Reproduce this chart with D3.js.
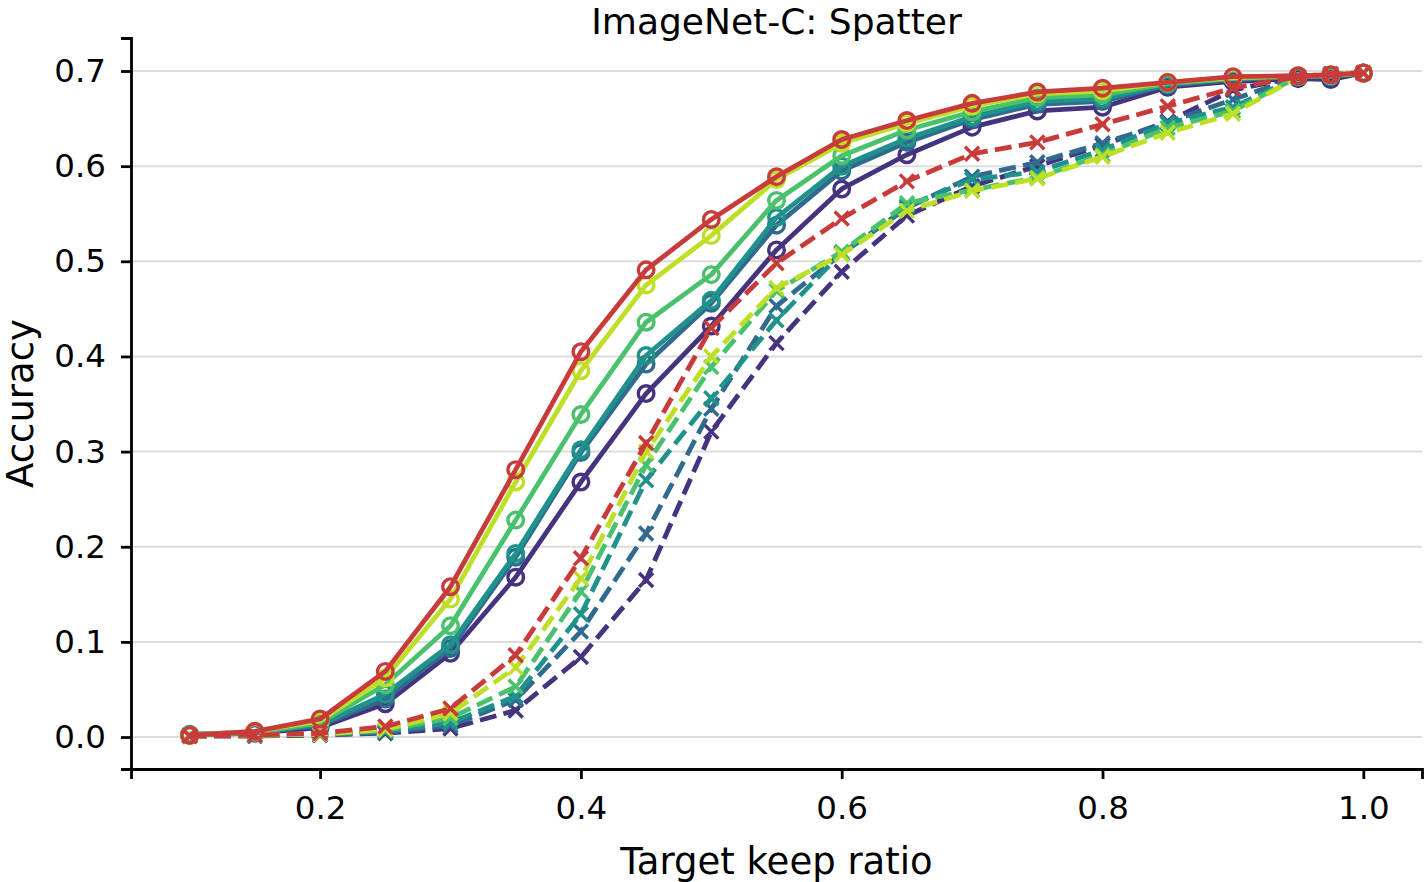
<!DOCTYPE html>
<html>
<head>
<meta charset="utf-8">
<script src="https://cdn.jsdelivr.net/npm/d3@7"></script>
<style>
  body { margin: 0; background: #fff; }
  svg { display: block; font-family: 'DejaVu Sans', sans-serif; }
</style>
</head>
<body>
<svg id="chart" width="1424" height="882"></svg>
<script>
/* ------------ Data ----------------*/
const keepRatios = [0.1, 0.15, 0.2, 0.25, 0.3, 0.35, 0.4, 0.45, 0.5, 0.55, 0.6, 0.65, 0.7, 0.75, 0.8, 0.85, 0.9, 0.95, 0.975, 1.0];

const seriesNames = ['purple', 'blue', 'teal', 'green', 'yellow', 'red'];

const solidValues = [
  [0.002, 0.004, 0.010, 0.035, 0.088, 0.168, 0.268, 0.361, 0.432, 0.512, 0.576, 0.612, 0.641, 0.658, 0.662, 0.683, 0.689, 0.692, 0.691, 0.698],
  [0.002, 0.005, 0.012, 0.040, 0.093, 0.189, 0.299, 0.392, 0.456, 0.538, 0.595, 0.625, 0.649, 0.665, 0.668, 0.685, 0.691, 0.694, 0.694, 0.698],
  [0.003, 0.005, 0.013, 0.045, 0.097, 0.193, 0.302, 0.401, 0.459, 0.546, 0.600, 0.629, 0.652, 0.668, 0.671, 0.686, 0.692, 0.694, 0.695, 0.698],
  [0.002, 0.005, 0.015, 0.055, 0.117, 0.228, 0.339, 0.436, 0.486, 0.564, 0.611, 0.638, 0.657, 0.672, 0.675, 0.687, 0.692, 0.695, 0.695, 0.698],
  [0.002, 0.006, 0.017, 0.062, 0.145, 0.268, 0.385, 0.475, 0.527, 0.586, 0.624, 0.645, 0.663, 0.676, 0.679, 0.688, 0.693, 0.695, 0.696, 0.698],
  [0.002, 0.006, 0.019, 0.069, 0.158, 0.281, 0.405, 0.491, 0.544, 0.589, 0.628, 0.648, 0.666, 0.678, 0.682, 0.688, 0.694, 0.695, 0.696, 0.698]
];

const dashedValues = [
  [0.001, 0.001, 0.002, 0.004, 0.009, 0.028, 0.084, 0.165, 0.321, 0.414, 0.489, 0.548, 0.579, 0.600, 0.622, 0.647, 0.680, 0.694, 0.697, 0.698],
  [0.001, 0.002, 0.002, 0.005, 0.012, 0.039, 0.111, 0.214, 0.345, 0.453, 0.508, 0.556, 0.589, 0.604, 0.624, 0.646, 0.670, 0.694, 0.697, 0.698],
  [0.001, 0.002, 0.003, 0.006, 0.015, 0.043, 0.129, 0.270, 0.356, 0.438, 0.509, 0.558, 0.586, 0.594, 0.617, 0.645, 0.662, 0.694, 0.696, 0.698],
  [0.001, 0.002, 0.003, 0.007, 0.020, 0.053, 0.153, 0.286, 0.389, 0.469, 0.510, 0.561, 0.575, 0.588, 0.612, 0.640, 0.658, 0.694, 0.696, 0.698],
  [0.001, 0.002, 0.003, 0.008, 0.025, 0.073, 0.167, 0.300, 0.400, 0.472, 0.507, 0.553, 0.574, 0.587, 0.610, 0.635, 0.655, 0.694, 0.696, 0.698],
  [0.001, 0.002, 0.004, 0.011, 0.030, 0.086, 0.188, 0.309, 0.430, 0.498, 0.545, 0.584, 0.613, 0.625, 0.644, 0.663, 0.682, 0.694, 0.696, 0.698]
];

const seriesColors = ['#45337f', '#306a8e', '#20928c', '#4ac16d', '#bddf26', '#c93b3b'];

const xTicks = [0.2, 0.4, 0.6, 0.8, 1.0];
const yTicks = [0.0, 0.1, 0.2, 0.3, 0.4, 0.5, 0.6, 0.7];

/* ------------ Layout ----------------*/
const plotLeft = 131, plotRight = 1422, plotTop = 38, plotBottom = 769;

const svg = d3.select('#chart');

const x = d3.scaleLinear().domain([0.055, 1.045]).range([plotLeft, plotRight]);
const y = d3.scaleLinear().domain([-0.0336, 0.7347]).range([plotBottom, plotTop]);

/* ------------ Functions ----------------*/
const drawGrid = (wrapper) => {
  wrapper.append('g')
    .attr('class', 'grid')
    .selectAll('line')
    .data(yTicks)
    .join('line')
    .attr('x1', plotLeft)
    .attr('x2', plotRight)
    .attr('y1', d => y(d))
    .attr('y2', d => y(d))
    .attr('stroke', '#dcdcdc')
    .attr('stroke-width', 2);
};

const drawSeries = (wrapper, values, color, dashed) => {
  const pts = keepRatios.map((k, i) => [k, values[i]]);
  const line = d3.line().x(d => x(d[0])).y(d => y(d[1]));
  wrapper.append('path')
    .datum(pts)
    .attr('fill', 'none')
    .attr('stroke', color)
    .attr('stroke-width', 4.8)
    .attr('stroke-linejoin', 'round')
    .attr('stroke-dasharray', dashed ? '17,7.3' : null)
    .attr('d', line);
  if (dashed) {
    const s = 7;
    wrapper.append('g')
      .selectAll('path')
      .data(pts)
      .join('path')
      .attr('d', d => {
        const cx = x(d[0]), cy = y(d[1]);
        return `M${cx - s},${cy - s}L${cx + s},${cy + s}M${cx - s},${cy + s}L${cx + s},${cy - s}`;
      })
      .attr('stroke', color)
      .attr('stroke-width', 3.5)
      .attr('fill', 'none');
  } else {
    wrapper.append('g')
      .selectAll('circle')
      .data(pts)
      .join('circle')
      .attr('cx', d => x(d[0]))
      .attr('cy', d => y(d[1]))
      .attr('r', 7.8)
      .attr('fill', 'none')
      .attr('stroke', color)
      .attr('stroke-width', 3.4);
  }
};

const drawAxes = (wrapper) => {
  const xAxis = wrapper.append('g')
    .attr('transform', `translate(0,${plotBottom})`)
    .call(d3.axisBottom(x).tickValues(xTicks).tickFormat(d3.format('.1f')).tickSizeOuter(0).tickSize(10).tickPadding(17));
  const yAxis = wrapper.append('g')
    .attr('transform', `translate(${plotLeft},0)`)
    .call(d3.axisLeft(y).tickValues(yTicks).tickFormat(d3.format('.1f')).tickSizeOuter(0).tickSize(10).tickPadding(15));
  [xAxis, yAxis].forEach(a => {
    a.select('.domain').attr('stroke', '#000').attr('stroke-width', 2.8);
    a.selectAll('.tick line').attr('stroke', '#000').attr('stroke-width', 2.8);
    a.selectAll('.tick text')
      .attr('fill', '#000')
      .attr('font-size', '32.5px')
      .attr('font-family', "'DejaVu Sans', sans-serif");
  });
};

const drawText = (wrapper) => {
  wrapper.append('text')
    .attr('x', (plotLeft + plotRight) / 2)
    .attr('y', 34)
    .attr('text-anchor', 'middle')
    .attr('font-size', '36px')
    .text('ImageNet-C: Spatter');
  wrapper.append('text')
    .attr('x', (plotLeft + plotRight) / 2)
    .attr('y', 874)
    .attr('text-anchor', 'middle')
    .attr('font-size', '37px')
    .text('Target keep ratio');
  wrapper.append('text')
    .attr('transform', `translate(33,${(plotTop + plotBottom) / 2}) rotate(-90)`)
    .attr('text-anchor', 'middle')
    .attr('font-size', '37px')
    .text('Accuracy');
};

/* ------------ Draw ----------------*/
drawGrid(svg);
const plot = svg.append('g').attr('class', 'series');
seriesNames.forEach((name, i) => {
  drawSeries(plot, solidValues[i], seriesColors[i], false);
  drawSeries(plot, dashedValues[i], seriesColors[i], true);
});
drawAxes(svg);
drawText(svg);
</script>
</body>
</html>
